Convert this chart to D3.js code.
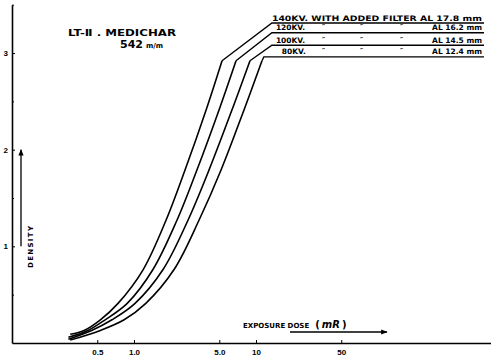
<!DOCTYPE html>
<html>
<head>
<meta charset="utf-8">
<script src="https://cdn.jsdelivr.net/npm/d3@7/dist/d3.min.js"></script>
<style>
  body { margin: 0; background: #fff; }
  svg { display: block; font-family: 'DejaVu Sans', sans-serif; font-weight: bold; }
</style>
</head>
<body>
<div id="chart"></div>
<script>
// exposure dose (mR) ticks on log axis
const doseTicks = [0.5, 1, 5, 10, 50];
const doseTickLabels = ['0.5', '1.0', '5.0', '10', '50'];
const densityTicks = [1, 2, 3];
const densityMinor = [0.5, 1.5, 2.5, 3.5];

const seriesNames = ['140KV.', '120KV.', '100KV.', '80KV.'];
const filterLabels = ['AL 17.8 mm', 'AL 16.2 mm', 'AL 14.5 mm', 'AL 12.4 mm'];

// characteristic curves, dose (mR) vs density
const dose140 = [0.30, 0.39, 0.53, 0.74, 1.19, 1.83, 2.62, 3.97, 5.27];
const dens140 = [0.09, 0.13, 0.24, 0.41, 0.76, 1.27, 1.79, 2.44, 2.92];
const dose120 = [0.29, 0.42, 0.58, 0.88, 1.43, 2.25, 3.28, 5.07, 6.86];
const dens120 = [0.06, 0.13, 0.24, 0.41, 0.76, 1.27, 1.79, 2.44, 2.92];
const dose100 = [0.29, 0.45, 0.66, 1.02, 1.73, 2.77, 4.12, 6.48, 8.93];
const dens100 = [0.04, 0.13, 0.24, 0.41, 0.76, 1.27, 1.79, 2.44, 2.92];
const dose80 = [0.30, 0.53, 0.83, 1.25, 2.13, 3.41, 5.17, 8.13, 11.2];
const dens80 = [0.03, 0.13, 0.24, 0.41, 0.76, 1.27, 1.79, 2.44, 2.92];

// leader lines from the knee to the label rows
const leaderStartDose = [13.5, 13.5, 13.5, 11.6];
const leaderEndDose = 740;
const leaderDensity = [3.31, 3.21, 3.08, 2.96];

const curves = [
  d3.zip(dose140, dens140),
  d3.zip(dose120, dens120),
  d3.zip(dose100, dens100),
  d3.zip(dose80, dens80)
];

const width = 491, height = 356;

const svg = d3.select('#chart').append('svg')
  .attr('width', width)
  .attr('height', height);

svg.append('defs').append('marker')
  .attr('id', 'arrow')
  .attr('viewBox', '0 0 10 10')
  .attr('refX', 9).attr('refY', 5)
  .attr('markerWidth', 7).attr('markerHeight', 5)
  .attr('orient', 'auto')
  .append('path')
  .attr('d', 'M0,1L10,5L0,9Z')
  .attr('fill', '#000');

const x = d3.scaleLog().domain([0.1, 844]).range([12, 491]);
const y = d3.scaleLinear().domain([0, 3.5]).range([343, 4.7]);

// X axis
const xAxis = svg.append('g')
  .attr('transform', `translate(0,${y(0)})`)
  .call(d3.axisBottom(x)
    .tickValues(doseTicks)
    .tickFormat((d, i) => doseTickLabels[i])
    .tickSizeInner(-3).tickSizeOuter(0).tickPadding(6));
xAxis.select('.domain').attr('stroke-width', 1.6);
xAxis.selectAll('text').attr('font-size', 8).attr('font-weight', 'bold').attr('fill', '#000');

// Y axis
const yAxis = svg.append('g')
  .attr('transform', `translate(${x(0.1)},0)`)
  .call(d3.axisLeft(y)
    .tickValues(densityTicks)
    .tickFormat(d3.format('d'))
    .tickSizeInner(-3).tickSizeOuter(0).tickPadding(4));
yAxis.select('.domain').attr('stroke-width', 1.6);
yAxis.selectAll('text').attr('font-size', 8).attr('font-weight', 'bold').attr('fill', '#000');

svg.append('g')
  .attr('transform', `translate(${x(0.1)},0)`)
  .call(d3.axisRight(y).tickValues(densityMinor).tickSize(2).tickFormat(''))
  .select('.domain').remove();

// curves
const line = d3.line()
  .x(d => x(d[0]))
  .y(d => y(d[1]))
  .curve(d3.curveCatmullRom.alpha(0.5));

const straight = d3.line()
  .x(d => x(d[0]))
  .y(d => y(d[1]));

curves.forEach((pts, i) => {
  svg.append('path')
    .attr('d', line(pts))
    .attr('fill', 'none')
    .attr('stroke', '#000')
    .attr('stroke-width', 1.6);

  const knee = pts[pts.length - 1];
  svg.append('path')
    .attr('d', straight([knee,
      [leaderStartDose[i], leaderDensity[i]],
      [leaderEndDose, leaderDensity[i]]]))
    .attr('fill', 'none')
    .attr('stroke', '#000')
    .attr('stroke-width', 1.4);
});

// label rows above the leader lines
const labelRows = svg.append('g').attr('font-size', 7.5);
seriesNames.forEach((name, i) => {
  const by = y(leaderDensity[i]) - 2.5;
  const x0 = x(leaderStartDose[i]);
  if (i === 0) {
    labelRows.append('text')
      .attr('x', x0).attr('y', by)
      .attr('textLength', x(leaderEndDose) - x0 - 2)
      .attr('lengthAdjust', 'spacingAndGlyphs')
      .text(`${name} WITH ADDED FILTER ${filterLabels[i]}`);
  } else {
    labelRows.append('text')
      .attr('x', x0 + (i === 3 ? 18 : 4)).attr('y', by)
      .text(name);
    [322, 360, 400].forEach(dx => {
      labelRows.append('text')
        .attr('x', dx).attr('y', by - 1)
        .attr('font-size', 7)
        .text('″');
    });
    labelRows.append('text')
      .attr('x', x(leaderEndDose) - 2).attr('y', by)
      .attr('text-anchor', 'end')
      .text(filterLabels[i]);
  }
});

// title
const title = svg.append('g').attr('fill', '#000');
title.append('text')
  .attr('x', 68).attr('y', 36)
  .attr('font-size', 8)
  .attr('textLength', 108)
  .attr('lengthAdjust', 'spacingAndGlyphs')
  .text('LT-Ⅱ . MEDICHAR');
const sub = title.append('text').attr('x', 120).attr('y', 48);
sub.append('tspan').attr('font-size', 11).text('542');
sub.append('tspan').attr('font-size', 7).attr('dx', 3).text('m/m');

// y axis title with arrow
svg.append('line')
  .attr('x1', 21).attr('x2', 21)
  .attr('y1', y(1)).attr('y2', y(2))
  .attr('stroke', '#000').attr('stroke-width', 1.3)
  .attr('marker-end', 'url(#arrow)');
svg.append('text')
  .attr('transform', `translate(33,247) rotate(-90)`)
  .attr('text-anchor', 'middle')
  .attr('font-size', 7)
  .attr('textLength', 42)
  .text('DENSITY');

// x axis title with arrow
const xt = svg.append('text').attr('x', 243).attr('y', 328);
xt.append('tspan').attr('font-size', 7).text('EXPOSURE DOSE');
xt.append('tspan').attr('font-size', 10).attr('dx', 6).text('(');
xt.append('tspan').attr('font-size', 10).attr('dx', 2).attr('font-style', 'italic').text('mR');
xt.append('tspan').attr('font-size', 10).attr('dx', 2).text(')');
svg.append('line')
  .attr('x1', 290).attr('x2', 387)
  .attr('y1', 332).attr('y2', 332)
  .attr('stroke', '#000').attr('stroke-width', 1.3)
  .attr('marker-end', 'url(#arrow)');
</script>
</body>
</html>
